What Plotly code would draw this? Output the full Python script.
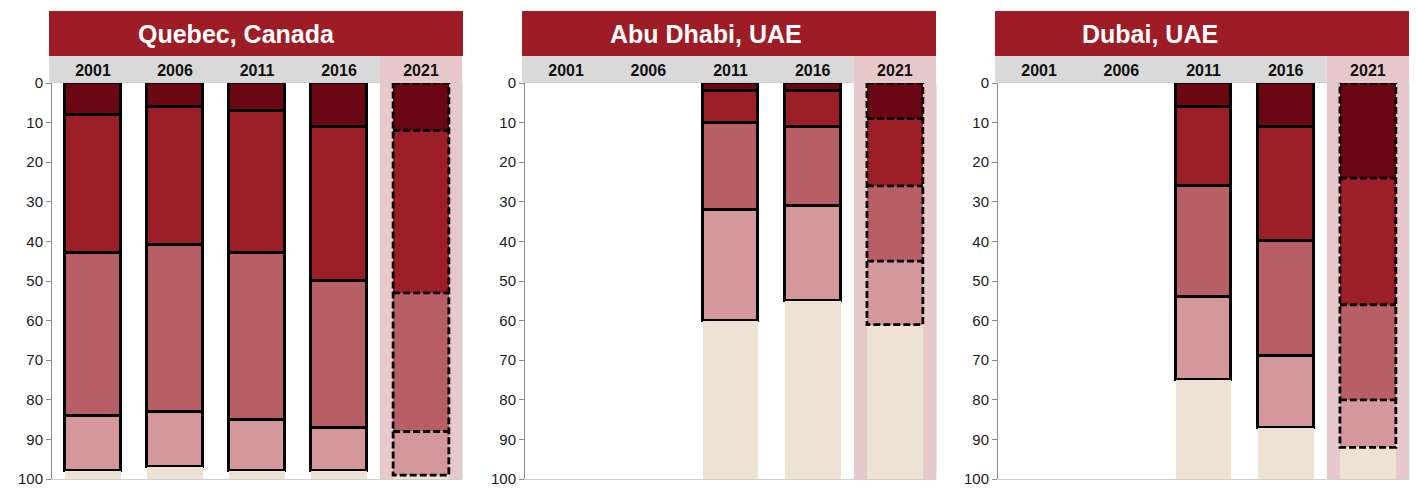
import plotly.graph_objects as go

# ---------------- data ----------------
years = ["2001", "2006", "2011", "2016", "2021"]
panel_titles = ["Quebec, Canada", "Abu Dhabi, UAE", "Dubai, UAE"]

quebec_s1 = [8, 6, 7, 11, 12]
quebec_s2 = [35, 35, 36, 39, 41]
quebec_s3 = [41, 42, 42, 37, 35]
quebec_s4 = [14, 14, 13, 11, 11]

abudhabi_s1 = [None, None, 2, 2, 9]
abudhabi_s2 = [None, None, 8, 9, 17]
abudhabi_s3 = [None, None, 22, 20, 19]
abudhabi_s4 = [None, None, 28, 24, 16]

dubai_s1 = [None, None, 6, 11, 24]
dubai_s2 = [None, None, 20, 29, 32]
dubai_s3 = [None, None, 28, 29, 24]
dubai_s4 = [None, None, 21, 18, 12]

y_ticks = [0, 10, 20, 30, 40, 50, 60, 70, 80, 90, 100]

panels = [
    [quebec_s1, quebec_s2, quebec_s3, quebec_s4],
    [abudhabi_s1, abudhabi_s2, abudhabi_s3, abudhabi_s4],
    [dubai_s1, dubai_s2, dubai_s3, dubai_s4],
]

# ---------------- style ----------------
W, H = 1416, 488
FONT = "Liberation Sans, Arial, sans-serif"
seg_colors = ["#6B0712", "#9C1F28", "#B85E65", "#D4979B"]
beige = "#EEE2D3"
band_pink = "#E8C9CB"
header_gray = "#D9D9D9"
banner_red = "#9E1C25"
BAR_W = 0.68
EDGE_W = 2.8

plot_x = [(52, 462), (525, 936), (998, 1409)]
banner_x = [(49, 463), (522, 936), (995, 1409)]
title_cx = [236, 706, 1150]
plot_top, plot_bot = 83, 479
header_top = 56
banner_top = 11


def px_x(p):
    return p / W


def px_y(p):
    return 1 - p / H


fig = go.Figure()
shapes = []
annotations = []

for pi, segs in enumerate(panels):
    xa = "x" if pi == 0 else f"x{pi + 1}"
    ya = "y" if pi == 0 else f"y{pi + 1}"
    n = len(years)
    xs = list(range(n))
    proj = n - 1  # last year is projected (dashed)

    # stacked coloured segments
    for k, seg in enumerate(segs):
        fig.add_trace(go.Bar(
            x=xs, y=seg, width=BAR_W, xaxis=xa, yaxis=ya,
            marker=dict(color=seg_colors[k],
                        line=dict(color="black",
                                  width=[EDGE_W if i != proj else 0 for i in xs])),
            showlegend=False, hoverinfo="skip",
        ))
    # remainder (beige)
    remainder = []
    for i in xs:
        vals = [s[i] for s in segs]
        remainder.append(None if any(v is None for v in vals) else 100 - sum(vals))
    fig.add_trace(go.Bar(
        x=xs, y=remainder, width=BAR_W, xaxis=xa, yaxis=ya,
        marker=dict(color=beige, line=dict(width=0)),
        showlegend=False, hoverinfo="skip",
    ))

    # dashed outline for projected year
    vals = [s[proj] for s in segs]
    if all(v is not None for v in vals):
        cum = [0]
        for v in vals:
            cum.append(cum[-1] + v)
        x0, x1 = proj - BAR_W / 2, proj + BAR_W / 2
        lx = [x0, x1, x1, x0, x0, None]
        ly = [cum[0], cum[0], cum[-1], cum[-1], cum[0], None]
        for c in cum[1:-1]:
            lx += [x0, x1, None]
            ly += [c, c, None]
        fig.add_trace(go.Scatter(
            x=lx, y=ly, mode="lines", xaxis=xa, yaxis=ya,
            line=dict(color="black", width=EDGE_W, dash="7px,3px"),
            showlegend=False, hoverinfo="skip",
        ))

    # axes
    xd = [px_x(plot_x[pi][0]), px_x(plot_x[pi][1])]
    yd = [px_y(plot_bot), px_y(plot_top)]
    xkey = "xaxis" if pi == 0 else f"xaxis{pi + 1}"
    ykey = "yaxis" if pi == 0 else f"yaxis{pi + 1}"
    fig.layout[xkey] = dict(
        domain=xd, anchor=ya, range=[-0.5, n - 0.5], side="top",
        tickvals=xs, ticktext=[f"<b>{y}</b>" for y in years],
        tickfont=dict(family=FONT, size=16, color="#111111"),
        ticks="", showgrid=False, zeroline=False, automargin=False,
        showline=True, mirror=True, linecolor="#D0D0D0", linewidth=1,
        fixedrange=True,
    )
    fig.layout[ykey] = dict(
        domain=yd, anchor=xa, range=[100, 0], tickvals=y_ticks,
        tickfont=dict(family=FONT, size=15, color="#1A1A1A"),
        ticks="outside", ticklen=5, tickcolor="#8C8C8C", tickwidth=1,
        showline=True, linecolor="#8C8C8C", linewidth=1, automargin=False,
        showgrid=False, zeroline=False, fixedrange=True,
    )

    # right border of plot area
    shapes.append(dict(type="line", xref=f"{xa} domain", yref=f"{ya} domain",
                       x0=1, x1=1, y0=0, y1=1,
                       line=dict(color="#D0D0D0", width=1), layer="above"))
    # projected-year pink band (full slot, header to bottom)
    shapes.append(dict(type="rect", xref=xa, yref="paper",
                       x0=proj - 0.5, x1=proj + 0.5,
                       y0=px_y(plot_bot), y1=px_y(header_top),
                       fillcolor=band_pink, line=dict(width=0), layer="below"))
    # gray header for the other years
    shapes.append(dict(type="rect", xref="paper", yref="paper",
                       x0=px_x(banner_x[pi][0]),
                       x1=px_x(plot_x[pi][0] + (plot_x[pi][1] - plot_x[pi][0]) * (proj / n)),
                       y0=px_y(plot_top - 1), y1=px_y(header_top),
                       fillcolor=header_gray, line=dict(width=0), layer="below"))
    # title banner
    shapes.append(dict(type="rect", xref="paper", yref="paper",
                       x0=px_x(banner_x[pi][0]), x1=px_x(banner_x[pi][1]),
                       y0=px_y(header_top), y1=px_y(banner_top),
                       fillcolor=banner_red, line=dict(width=0), layer="below"))
    annotations.append(dict(
        text=f"<b>{panel_titles[pi]}</b>", xref="paper", yref="paper",
        x=px_x(title_cx[pi]), y=px_y((banner_top + header_top) / 2),
        xanchor="center", yanchor="middle", showarrow=False,
        font=dict(family=FONT, size=25, color="white"),
    ))

fig.update_layout(
    width=W, height=H, margin=dict(l=0, r=0, t=0, b=0),
    barmode="stack", bargap=0,
    paper_bgcolor="white", plot_bgcolor="rgba(0,0,0,0)",
    shapes=shapes, annotations=annotations,
    font=dict(family=FONT),
)

fig.write_html("out.html")
